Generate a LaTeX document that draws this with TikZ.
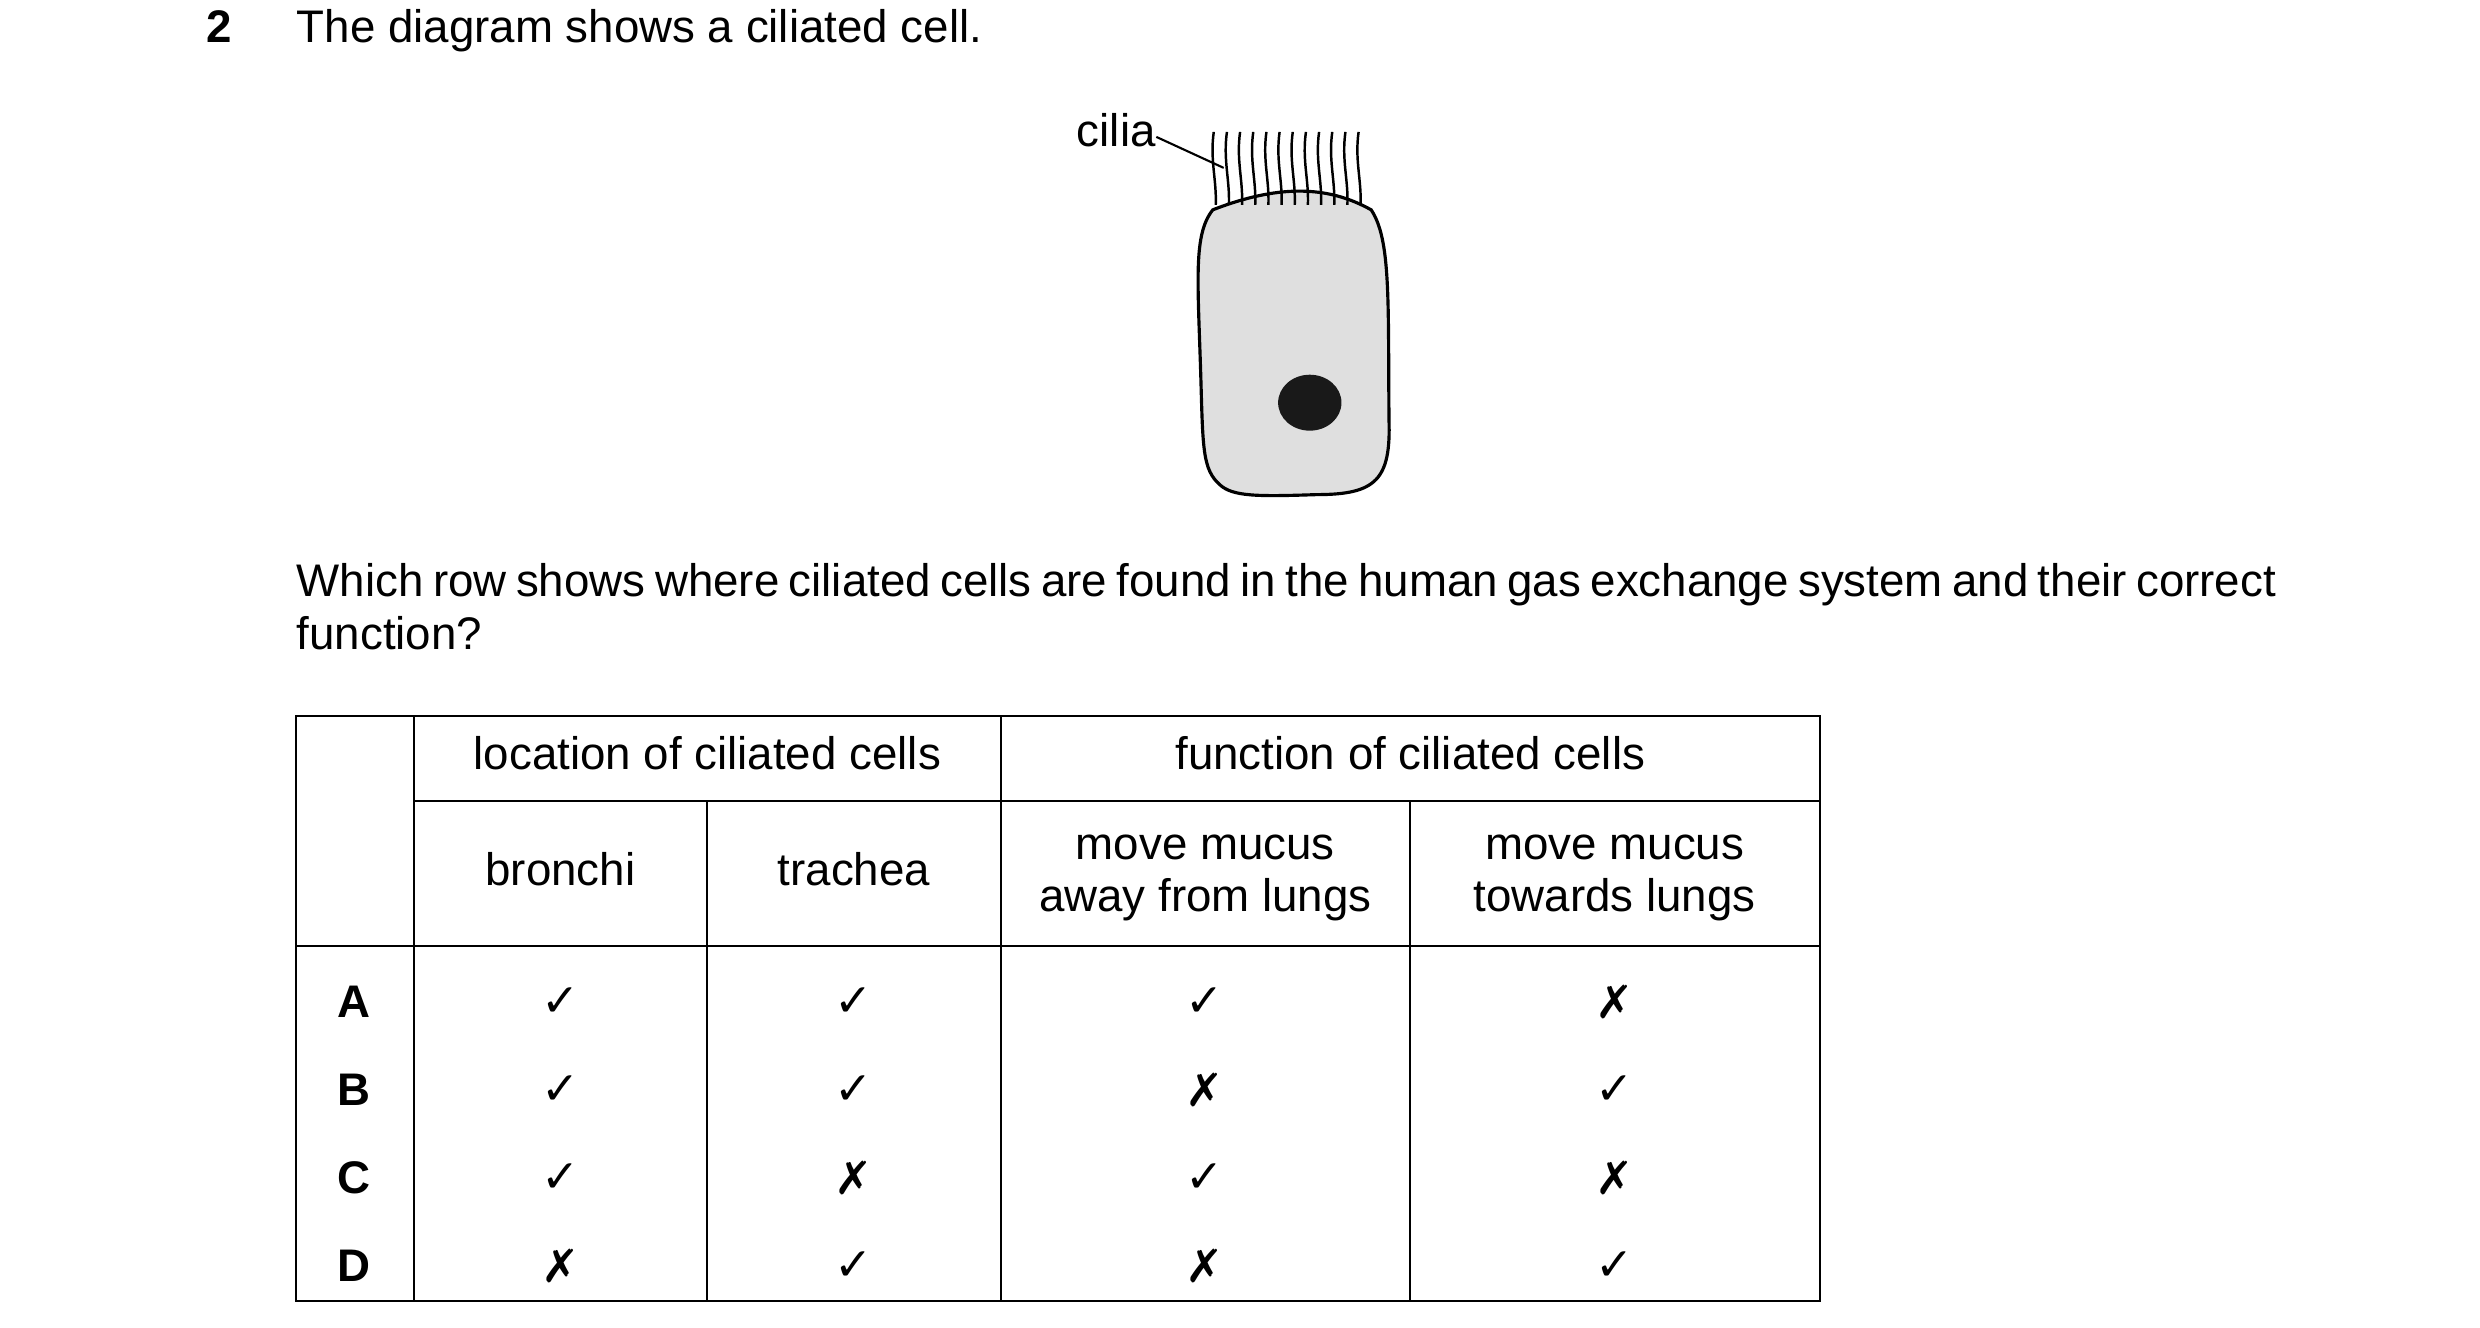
\documentclass[tikz,border=0pt]{standalone}
\usepackage{fontspec}
\setmainfont{Liberation Sans}
\newfontfamily\sym{DejaVu Sans}
\begin{document}
\fontsize{13}{15.2}\selectfont
\begin{tikzpicture}[x=0.0099cm,y=-0.01cm,
  txt/.style={inner sep=0pt,anchor=base},
  grid/.style={line width=0.6pt},
  mk/.style={inner sep=0pt,font=\sym\fontsize{13}{15}\selectfont}]
\useasboundingbox (0,0) rectangle (2505,1329);
\node[txt,anchor=base west,font=\bfseries] (num) at (208,43) {2};
\node[txt,anchor=base west] (q1) at (299,43) {The diagram shows a ciliated cell.};
% cell
\draw[line width=0.9pt,fill=gray!25!white]
 (1225,210) .. controls (1290,185) and (1340,185) .. (1385,210)
 .. controls (1405,240) and (1402,300) .. (1403,420)
 .. controls (1405,480) and (1390,495) .. (1330,495)
 .. controls (1270,497) and (1245,497) .. (1232,485)
 .. controls (1215,470) and (1215,450) .. (1213,380)
 .. controls (1210,280) and (1205,235) .. (1225,210) -- cycle;
\fill[black!90] (1323,403) ellipse [x radius=32, y radius=28];
\foreach \i in {0,...,11}{
  \pgfmathsetmacro\xx{1226+\i*13.3}
  \draw[line width=0.7pt] (\xx,132) .. controls (\xx-4,160) and (\xx+3,180) .. (\xx+2,205);
}
\node[txt,anchor=base east] (cl) at (1168,147) {cilia};
\coordinate (ct) at (1236,168);
\draw[line width=0.6pt] (cl.base east) ++(0,-10) -- (ct);
\node[inner sep=0pt,anchor=north west,text width=19.8cm,align=justify] (q2) at (299,563)
 {Which row shows where ciliated cells are found in the human gas exchange system and their correct function?};
% table
\draw[grid] (299,717) rectangle (1838,1302);
\draw[grid] (418,802) -- (1838,802);
\draw[grid] (299,947) -- (1838,947);
\draw[grid] (418,717) -- (418,1302);
\draw[grid] (1011,717) -- (1011,1302);
\draw[grid] (714,802) -- (714,1302);
\draw[grid] (1424,802) -- (1424,1302);
\node[txt] (h1) at (714.5,770) {location of ciliated cells};
\node[txt] (h2) at (1424.5,770) {function of ciliated cells};
\node[txt] (s1) at (566,886) {bronchi};
\node[txt] (s2) at (862.5,886) {trachea};
\node[txt] (s3a) at (1217.5,860) {move mucus};
\node[txt] (s3b) at (1217.5,912) {away from lungs};
\node[txt] (s4a) at (1631,860) {move mucus};
\node[txt] (s4b) at (1631,912) {towards lungs};
\def\Y{✓}\def\N{✗}
\foreach \r/\yy/\a/\b/\c/\d in {A/1003/\Y/\Y/\Y/\N, B/1091/\Y/\Y/\N/\Y, C/1179/\Y/\N/\Y/\N, D/1267/\N/\Y/\N/\Y}{
  \node[inner sep=0pt,font=\bfseries] at (358,\yy) {\r};
  \node[mk] at (566,\yy) {\a};
  \node[mk] at (862,\yy) {\b};
  \node[mk] at (1217,\yy) {\c};
  \node[mk] at (1631,\yy) {\d};
}
\end{tikzpicture}
\end{document}
